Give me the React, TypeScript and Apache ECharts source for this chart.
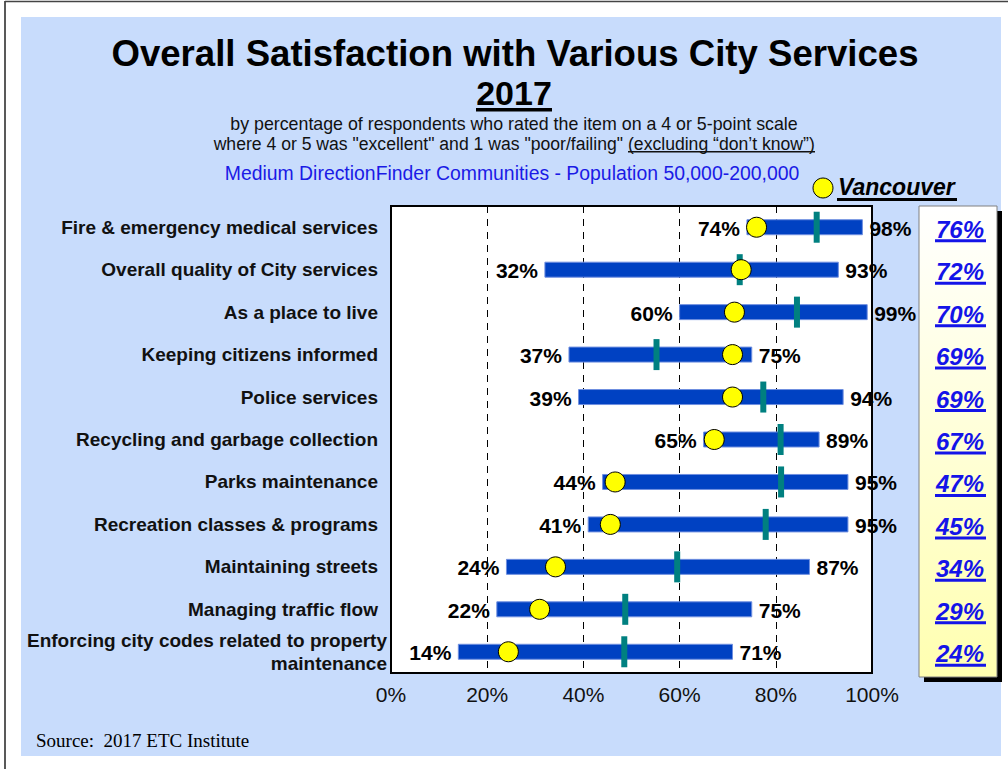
import React, { useEffect, useRef } from 'react';
import * as echarts from 'echarts';

const categories = [
  'Fire & emergency medical services',
  'Overall quality of City services',
  'As a place to live',
  'Keeping citizens informed',
  'Police services',
  'Recycling and garbage collection',
  'Parks maintenance',
  'Recreation classes & programs',
  'Maintaining streets',
  'Managing traffic flow',
  'Enforcing city codes related to property\nmaintenance',
];
const minValues = [74, 32, 60, 37, 39, 65, 44, 41, 24, 22, 14];
const maxValues = [98, 93, 99, 75, 94, 89, 95, 95, 87, 75, 71];
const medianValues = [88.5, 72.5, 84.4, 55.2, 77.4, 81, 81.1, 77.9, 59.5, 48.7, 48.5];
const vancouverMarker = [76, 72.8, 71.4, 71, 71, 67.2, 46.6, 45.6, 34.2, 30.9, 24.4];
const vancouverValues = [76, 72, 70, 69, 69, 67, 47, 45, 34, 29, 24];

const FONT = '"Liberation Sans", Arial, Helvetica, sans-serif';
const BG = '#c8dcfc';

export default function App() {
  const ref = useRef<HTMLDivElement>(null);
  useEffect(() => {
    if (!ref.current) return;
    const chart = echarts.init(ref.current, undefined, { renderer: 'svg' });
    const option: any = {
      animation: false,
      graphic: [
        { type: 'rect', z: -10, shape: { x: 0, y: 0, width: 1008, height: 769 }, style: { fill: '#fff' } },
        { type: 'rect', z: -9, shape: { x: 21, y: 17, width: 980, height: 739 }, style: { fill: BG } },
        { type: 'line', z: -8, shape: { x1: 5, y1: 1, x2: 5, y2: 769 }, style: { stroke: '#222', lineWidth: 1.5 } },
        { type: 'line', z: -8, shape: { x1: 5, y1: 1.5, x2: 1008, y2: 1.5 }, style: { stroke: '#444', lineWidth: 1.5 } },
        { type: 'text', x: 515, y: 53, style: { text: 'Overall Satisfaction with Various City Services', font: `bold 36.6px ${FONT}`, fill: '#000', align: 'center', verticalAlign: 'middle' } },
        { type: 'text', x: 514, y: 93, style: { text: '2017', font: `bold 34px ${FONT}`, fill: '#000', align: 'center', verticalAlign: 'middle' } },
        { type: 'rect', shape: { x: 476, y: 108, width: 76, height: 3.5 }, style: { fill: '#000' } },
        { type: 'text', x: 514, y: 124, style: { text: 'by percentage of respondents who rated the item on a 4 or 5-point scale', font: `17.8px ${FONT}`, fill: '#111', align: 'center', verticalAlign: 'middle' } },
        { type: 'text', x: 623, y: 144, style: { text: 'where 4 or 5 was "excellent" and 1 was "poor/failing"', font: `17.6px ${FONT}`, fill: '#111', align: 'right', verticalAlign: 'middle' } },
        { type: 'text', x: 628, y: 144, style: { text: '(excluding \u201cdon\u2019t know\u201d)', font: `17.6px ${FONT}`, fill: '#111', align: 'left', verticalAlign: 'middle' } },
        { type: 'rect', shape: { x: 628, y: 151, width: 187, height: 1.5 }, style: { fill: '#111' } },
        { type: 'text', x: 512, y: 173, style: { text: 'Medium DirectionFinder Communities - Population 50,000-200,000', font: `19.4px ${FONT}`, fill: '#1a1ae6', align: 'center', verticalAlign: 'middle' } },
        { type: 'circle', shape: { cx: 823, cy: 188, r: 10 }, style: { fill: '#ffff00', stroke: '#000', lineWidth: 1 } },
        { type: 'text', x: 838, y: 187, style: { text: 'Vancouver', font: `italic bold 23px ${FONT}`, fill: '#000', align: 'left', verticalAlign: 'middle' } },
        { type: 'rect', shape: { x: 837, y: 198, width: 120, height: 3 }, style: { fill: '#000' } },
        { type: 'rect', shape: { x: 924, y: 211, width: 78, height: 471 }, style: { fill: '#000' } },
        {
          type: 'rect', shape: { x: 919, y: 206, width: 78, height: 471 },
          style: {
            fill: new echarts.graphic.LinearGradient(0, 0, 0, 1, [
              { offset: 0, color: '#ffffff' },
              { offset: 1, color: '#ffffb0' },
            ]),
            stroke: '#808080', lineWidth: 1,
          },
        },
        { type: 'text', x: 36, y: 740, style: { text: 'Source:  2017 ETC Institute', font: '19px "Liberation Serif", "Times New Roman", serif', fill: '#000', align: 'left', verticalAlign: 'middle' } },
      ],
      grid: {
        left: 391, top: 206, width: 481, height: 467,
        show: true, backgroundColor: '#fff', borderColor: '#000', borderWidth: 2,
      },
      xAxis: {
        type: 'value', min: 0, max: 100, interval: 20,
        axisLine: { show: false }, axisTick: { show: false },
        axisLabel: { formatter: '{value}%', fontSize: 21, color: '#111', fontFamily: FONT, margin: 11 },
        splitLine: { show: true, lineStyle: { color: '#000', type: [7, 6], width: 1 } },
      },
      yAxis: {
        type: 'category', inverse: true, data: categories,
        axisLine: { show: false }, axisTick: { show: false },
        axisLabel: {
          margin: 4,
          formatter: (v: string) => v.includes('\n')
            ? v.split('\n').map((s) => `{b|${s}}`).join('\n')
            : `{a|${v}}`,
          rich: {
            a: { fontSize: 19, fontWeight: 'bold', fontFamily: FONT, color: '#111', padding: [0, 9, 0, 0] },
            b: { fontSize: 19, fontWeight: 'bold', fontFamily: FONT, color: '#111', lineHeight: 23 },
          },
        },
      },
      series: [
        {
          type: 'custom', z: 2,
          data: categories.map((_, i) => [i, minValues[i], maxValues[i]]),
          encode: { y: 0, x: [1, 2] },
          renderItem: (params: any, api: any) => {
            const idx = api.value(0);
            const lo = api.coord([api.value(1), idx]);
            const hi = api.coord([api.value(2), idx]);
            const h = 15;
            const font = `bold 21px ${FONT}`;
            return {
              type: 'group',
              children: [
                { type: 'rect', shape: { x: lo[0], y: lo[1] - h / 2, width: hi[0] - lo[0], height: h }, style: { fill: '#0041c2', stroke: '#6f8fe0', lineWidth: 1 } },
                { type: 'text', x: lo[0] - 7, y: lo[1] + 1, style: { text: `${api.value(1)}%`, font, fill: '#000', align: 'right', verticalAlign: 'middle' } },
                { type: 'text', x: hi[0] + 7, y: hi[1] + 1, style: { text: `${api.value(2)}%`, font, fill: '#000', align: 'left', verticalAlign: 'middle' } },
              ],
            };
          },
        },
        {
          type: 'scatter', z: 3,
          symbol: 'rect', symbolSize: [6, 31],
          itemStyle: { color: '#008080', opacity: 1 },
          data: categories.map((_, i) => [medianValues[i], i]),
        },
        {
          type: 'scatter', z: 4,
          symbol: 'circle', symbolSize: 20,
          itemStyle: { color: '#ffff00', borderColor: '#000', borderWidth: 1, opacity: 1 },
          data: categories.map((_, i) => [vancouverMarker[i], i]),
        },
        {
          type: 'custom', z: 10,
          data: categories.map((_, i) => [i, vancouverValues[i]]),
          encode: { y: 0 },
          renderItem: (params: any, api: any) => {
            const idx = api.value(0);
            const y = api.coord([0, idx])[1];
            const color = '#1414e8';
            return {
              type: 'group',
              children: [
                { type: 'text', x: 960, y: y + 2, style: { text: `${api.value(1)}%`, font: `italic bold 24px ${FONT}`, fill: color, align: 'center', verticalAlign: 'middle' } },
                { type: 'rect', shape: { x: 935, y: y + 12, width: 51, height: 3 }, style: { fill: color } },
              ],
            };
          },
        },
      ],
    };
    chart.setOption(option);
    return () => chart.dispose();
  }, []);
  return (
    <div style={{ position: 'absolute', left: 0, top: 0, width: 1008, height: 769, background: '#fff' }}>
      <div ref={ref} style={{ width: 1008, height: 769 }} />
    </div>
  );
}
